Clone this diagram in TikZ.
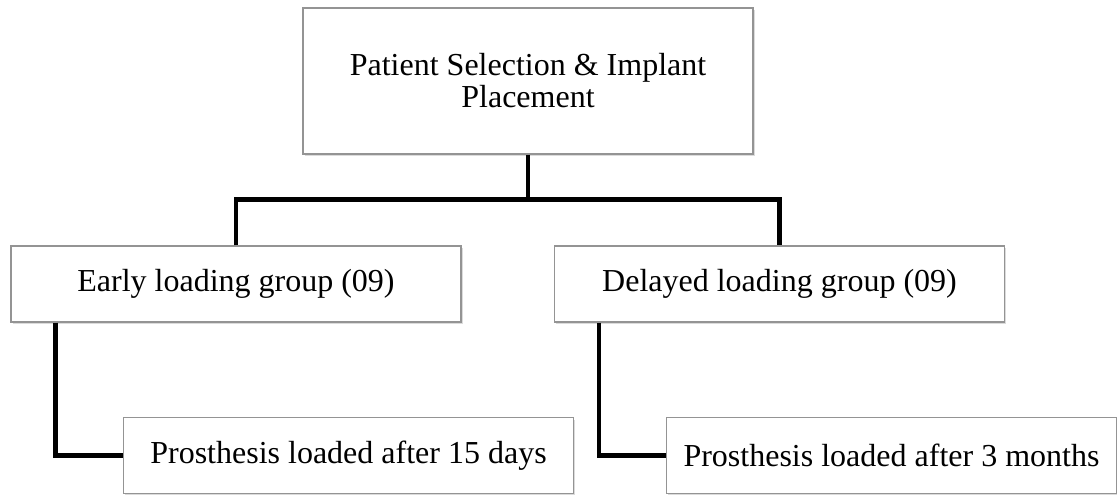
\documentclass[tikz,border=0pt]{standalone}
\usepackage{fontspec}
\setmainfont{Liberation Serif}
\usetikzlibrary{shadows}
\begin{document}
\begin{tikzpicture}[x=1pt,y=1pt,
  box/.style={draw=black!42, line width=1.2pt, fill=white, minimum width=450pt,
    minimum height=76pt, inner sep=0pt, align=center,
    font=\fontsize{32}{32}\selectfont,
    drop shadow={shadow xshift=1.5pt, shadow yshift=-2pt, opacity=0.35, fill=black!40}},
  conn/.style={line width=4.5pt, line join=miter, line cap=rect}]
\useasboundingbox (0,0) rectangle (1117,-495);
\node[box, minimum height=146pt] (top) at (528,-81) {Patient Selection \& Implant\\Placement};
\node[box] (early) at (236,-284) {Early loading group (09)};
\node[box] (delayed) at (779.5,-284) {Delayed loading group (09)};
\node[box] (p15) at (348.5,-455.5) {Prosthesis loaded after 15 days};
\node[box] (p3) at (891.5,-455.5) {Prosthesis loaded after 3 months};
\coordinate (j) at (528,-199.5);
\draw[conn, line cap=butt] (top.south) -- (j);
\draw[conn, line cap=butt] (early.north) -- (early.north |- j) -- (delayed.north |- j) -- (delayed.north);
\draw[conn, line cap=butt] ([xshift=45pt]early.south west) |- (p15.west);
\draw[conn, line cap=butt] ([xshift=45pt]delayed.south west) |- (p3.west);
\end{tikzpicture}
\end{document}
